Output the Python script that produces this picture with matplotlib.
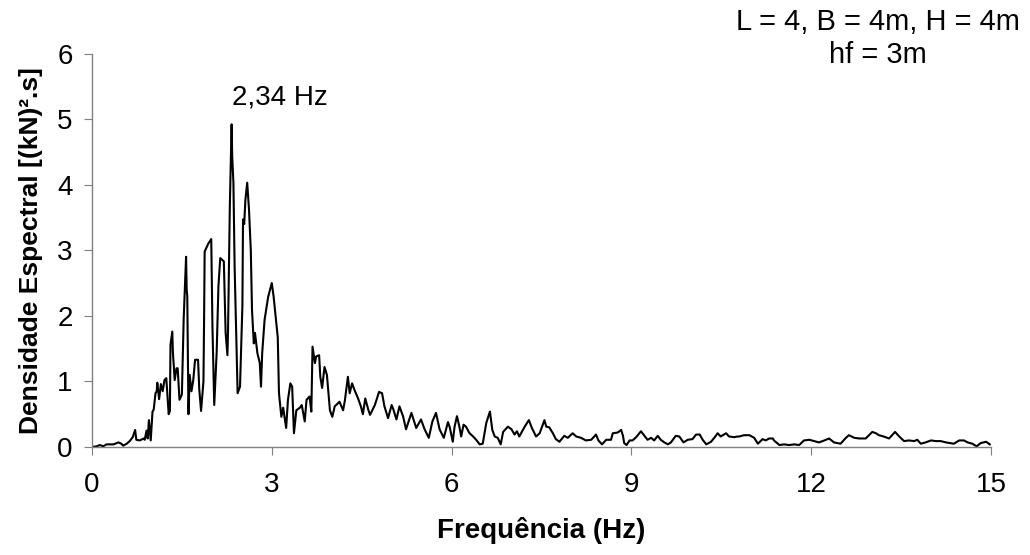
import matplotlib
matplotlib.use("Agg")
import matplotlib.pyplot as plt

# ------------------ DATA ------------------
freq = [
    0.00, 0.08, 0.13, 0.19, 0.24, 0.30, 0.36, 0.44, 0.49, 0.52, 0.58, 0.63,
    0.68, 0.72, 0.74, 0.80, 0.86, 0.88, 0.91, 0.93, 0.95, 0.98, 1.01, 1.03,
    1.06, 1.08, 1.09, 1.12, 1.15, 1.18, 1.21, 1.24, 1.28, 1.30, 1.31, 1.34,
    1.35, 1.38, 1.41, 1.43, 1.46, 1.50, 1.53, 1.57, 1.58, 1.59, 1.61, 1.63,
    1.66, 1.69, 1.72, 1.77, 1.79, 1.82, 1.86, 1.87, 1.88, 1.94, 1.99, 2.01,
    2.04, 2.08, 2.11, 2.14, 2.20, 2.23, 2.26, 2.27, 2.30, 2.33, 2.34, 2.36,
    2.38, 2.43, 2.47, 2.51, 2.52, 2.54, 2.56, 2.59, 2.62, 2.65, 2.67, 2.70,
    2.72, 2.76, 2.80, 2.82, 2.84, 2.88, 2.94, 3.00, 3.03, 3.10, 3.12, 3.16,
    3.19, 3.22, 3.24, 3.27, 3.31, 3.34, 3.37, 3.41, 3.47, 3.50, 3.55, 3.58,
    3.63, 3.66, 3.68, 3.72, 3.74, 3.79, 3.81, 3.84, 3.88, 3.92, 3.97, 4.01,
    4.05, 4.13, 4.19, 4.22, 4.27, 4.30, 4.34, 4.38, 4.44, 4.49, 4.52, 4.56,
    4.61, 4.64, 4.72, 4.79, 4.84, 4.88, 4.94, 5.00, 5.03, 5.08, 5.13, 5.19,
    5.24, 5.33, 5.41, 5.49, 5.55, 5.62, 5.68, 5.74, 5.80, 5.87, 5.94, 5.97,
    6.02, 6.05, 6.09, 6.13, 6.16, 6.20, 6.24, 6.30, 6.36, 6.41, 6.47, 6.52,
    6.58, 6.64, 6.68, 6.72, 6.77, 6.82, 6.86, 6.94, 7.00, 7.05, 7.09, 7.13,
    7.22, 7.29, 7.34, 7.41, 7.47, 7.51, 7.55, 7.58, 7.63, 7.69, 7.74, 7.80,
    7.88, 7.94, 8.02, 8.08, 8.16, 8.24, 8.33, 8.41, 8.45, 8.51, 8.58, 8.66,
    8.69, 8.77, 8.83, 8.86, 8.88, 8.92, 8.97, 9.02, 9.08, 9.16, 9.22, 9.27,
    9.33, 9.38, 9.44, 9.49, 9.55, 9.61, 9.66, 9.74, 9.80, 9.87, 9.94, 10.02,
    10.08, 10.14, 10.19, 10.25, 10.33, 10.40, 10.44, 10.49, 10.58, 10.63, 10.72, 10.77,
    10.80, 10.88, 10.97, 11.05, 11.11, 11.19, 11.24, 11.30, 11.36, 11.38, 11.47, 11.55,
    11.63, 11.72, 11.80, 11.88, 11.97, 12.05, 12.13, 12.22, 12.30, 12.38, 12.49, 12.58,
    12.63, 12.72, 12.80, 12.91, 13.02, 13.08, 13.13, 13.21, 13.30, 13.40, 13.47, 13.55,
    13.63, 13.72, 13.77, 13.83, 13.91, 14.00, 14.08, 14.16, 14.25, 14.38, 14.47, 14.55,
    14.61, 14.69, 14.76, 14.83, 14.92, 14.98,
]
density = [
    0.00, 0.01, 0.03, 0.01, 0.04, 0.04, 0.04, 0.07, 0.05, 0.02, 0.05, 0.09,
    0.15, 0.26, 0.11, 0.10, 0.13, 0.11, 0.25, 0.13, 0.41, 0.10, 0.54, 0.57,
    0.82, 0.85, 0.98, 0.73, 0.96, 0.85, 1.02, 1.05, 0.50, 0.55, 1.56, 1.76,
    1.45, 1.02, 1.20, 1.20, 0.72, 0.80, 1.95, 2.90, 2.40, 2.30, 0.50, 1.10,
    0.85, 1.02, 1.33, 1.33, 0.88, 0.55, 1.00, 1.90, 2.98, 3.10, 3.17, 1.84,
    0.64, 1.43, 2.45, 2.88, 2.83, 1.74, 1.40, 1.76, 3.67, 4.92, 4.43, 4.03,
    2.75, 0.82, 0.92, 2.16, 3.47, 3.40, 3.77, 4.03, 3.62, 3.00, 2.09, 1.58,
    1.74, 1.43, 1.28, 0.92, 1.43, 1.94, 2.29, 2.50, 2.30, 1.67, 0.82, 0.46,
    0.60, 0.42, 0.29, 0.72, 0.97, 0.92, 0.21, 0.56, 0.60, 0.64, 0.39, 0.72,
    0.77, 0.54, 1.53, 1.28, 1.38, 1.40, 1.07, 0.90, 1.22, 1.10, 0.56, 0.46,
    0.62, 0.69, 0.56, 0.71, 1.07, 0.82, 0.97, 0.87, 0.74, 0.61, 0.50, 0.74,
    0.57, 0.49, 0.64, 0.84, 0.82, 0.62, 0.44, 0.64, 0.57, 0.42, 0.62, 0.47,
    0.27, 0.52, 0.29, 0.42, 0.27, 0.14, 0.39, 0.52, 0.27, 0.14, 0.38, 0.30,
    0.08, 0.31, 0.47, 0.31, 0.16, 0.34, 0.31, 0.21, 0.16, 0.11, 0.04, 0.05,
    0.37, 0.54, 0.26, 0.16, 0.14, 0.04, 0.23, 0.31, 0.27, 0.19, 0.24, 0.16,
    0.31, 0.41, 0.29, 0.16, 0.21, 0.31, 0.41, 0.31, 0.30, 0.21, 0.12, 0.08,
    0.17, 0.14, 0.21, 0.16, 0.14, 0.10, 0.11, 0.19, 0.10, 0.04, 0.11, 0.11,
    0.21, 0.22, 0.26, 0.17, 0.06, 0.03, 0.10, 0.10, 0.15, 0.24, 0.17, 0.11,
    0.14, 0.10, 0.17, 0.11, 0.07, 0.04, 0.07, 0.17, 0.16, 0.07, 0.11, 0.12,
    0.19, 0.19, 0.11, 0.04, 0.08, 0.16, 0.21, 0.16, 0.21, 0.16, 0.15, 0.16,
    0.16, 0.18, 0.18, 0.14, 0.05, 0.12, 0.10, 0.13, 0.13, 0.10, 0.03, 0.04,
    0.03, 0.04, 0.03, 0.10, 0.11, 0.09, 0.07, 0.10, 0.13, 0.07, 0.05, 0.14,
    0.18, 0.14, 0.13, 0.13, 0.23, 0.21, 0.18, 0.16, 0.13, 0.23, 0.16, 0.09,
    0.10, 0.09, 0.11, 0.05, 0.07, 0.10, 0.09, 0.09, 0.07, 0.05, 0.10, 0.10,
    0.07, 0.05, 0.01, 0.06, 0.08, 0.04,
]
x_ticks = [0, 3, 6, 9, 12, 15]
y_ticks = [0, 1, 2, 3, 4, 5, 6]
peak_label = "2,34 Hz"
case_label = "L = 4, B = 4m, H = 4m\nhf = 3m"

# ------------------ CONFIG ------------------
plt.rcParams.update({
    "font.family": ["Liberation Sans", "DejaVu Sans"],
    "font.size": 20,
})

fig = plt.figure(figsize=(10.3, 5.55), dpi=100)
ax = fig.add_axes([0.0893, 0.1946, 0.8728, 0.709])

ax.plot(freq, density, color='black', linewidth=1.5)

ax.set_xlim(0, 15)
ax.set_ylim(0, 6)
ax.set_xticks(x_ticks)
ax.set_yticks(y_ticks)
ax.tick_params(axis='both', labelsize=20, color='#808080', length=6,
               direction='out')
ax.tick_params(axis='x', pad=12)
ax.tick_params(axis='y', pad=8)

for side in ['top', 'right']:
    ax.spines[side].set_visible(False)
for side in ['left', 'bottom']:
    ax.spines[side].set_color('#808080')
    ax.spines[side].set_linewidth(1.0)

ax.set_xlabel("Frequência (Hz)", fontsize=20, fontweight='bold', labelpad=14)
ax.set_ylabel("Densidade Espectral [(kN)².s]", fontsize=19, fontweight='bold',
              labelpad=10)

ax.text(3.13, 5.22, peak_label, fontsize=20, ha='center', va='baseline')
fig.text(0.852, 0.985, case_label, fontsize=21, ha='center', va='top',
         linespacing=1.2)

fig.savefig('out.png', dpi=100, facecolor='white')
